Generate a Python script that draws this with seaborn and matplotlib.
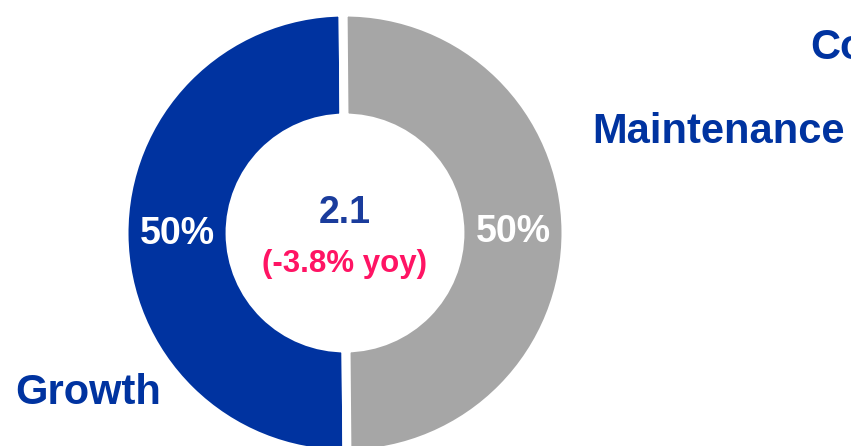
import matplotlib
matplotlib.use('Agg')
import matplotlib.pyplot as plt
import seaborn as sns

# data
segments = ['Growth', 'Maintenance']
shares = [50, 50]
total = '2.1'
yoy = '(-3.8% yoy)'
side_labels = ['Co']

sns.set_style('white')
plt.rcParams['font.family'] = ['Liberation Sans', 'DejaVu Sans']

blue = '#0033A0'
grey = '#A6A6A6'
pink = '#FF1464'
colors = sns.color_palette([blue, grey])

fig = plt.figure(figsize=(8.51, 4.46), dpi=100)
# square axes sized so the ring sits where it does in the original
ax = fig.add_axes([124 / 851, -8 / 446, 442 / 851, 442 / 446])

wedges, texts, autotexts = ax.pie(
    shares, colors=colors, startangle=90.5, counterclock=True,
    radius=1.0, autopct='%d%%', pctdistance=0.76,
    wedgeprops=dict(width=0.48, edgecolor='white', linewidth=6.5),
    textprops=dict(color='white', fontsize=27, fontweight='bold'))
ax.set_xlim(-1, 1)
ax.set_ylim(-1, 1)
ax.set_aspect('equal')
ax.axis('off')

# centre annotation
ax.text(0, 0.09, total, ha='center', va='center', fontsize=27,
        fontweight='bold', color='#1A3C9C')
ax.text(0, -0.14, yoy, ha='center', va='center', fontsize=22.5,
        fontweight='bold', color=pink)

# category names around the ring
fig.text(15 / 851, 1 - 393 / 446, segments[0], ha='left', va='center',
         fontsize=30, fontweight='bold', color=blue)
fig.text(592 / 851, 1 - 132 / 446, segments[1], ha='left', va='center',
         fontsize=30, fontweight='bold', color=blue)
fig.text(810 / 851, 1 - 48 / 446, side_labels[0], ha='left', va='center',
         fontsize=30, fontweight='bold', color=blue)

fig.savefig('out.png', dpi=100, facecolor='white')
